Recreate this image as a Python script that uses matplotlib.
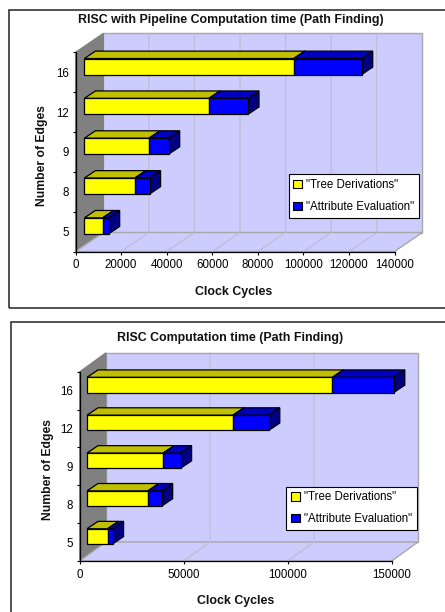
import matplotlib
matplotlib.use("Agg")
import matplotlib.pyplot as plt
from matplotlib.patches import Patch, Polygon, Rectangle

plt.rcParams["font.family"] = ["Liberation Sans", "DejaVu Sans"]

WIDTH = 445
HEIGHT = 612

edges = ["5", "8", "9", "12", "16"]

pipeline_tree = [8050, 22200, 28400, 54700, 91900]
pipeline_attr = [2600, 6400, 8600, 17100, 29800]
pipeline_ticks = [0, 20000, 40000, 60000, 80000, 100000, 120000, 140000]

risc_tree = [9900, 29300, 36700, 70200, 118000]
risc_attr = [2400, 6600, 8300, 17200, 29500]
risc_ticks = [0, 50000, 100000, 150000]

series_names = ['"Tree Derivations"', '"Attribute Evaluation"']


def box(ax, x0, x1, y0, y1, front, top, side, ddx, ddy):
    # one 3d looking bar segment
    ax.add_patch(Polygon([(x0, y1), (x1, y1), (x1 + ddx, y1 + ddy), (x0 + ddx, y1 + ddy)],
                         fc=top, ec="black", lw=0.9, clip_on=False, zorder=3))
    ax.add_patch(Polygon([(x1, y0), (x1 + ddx, y0 + ddy), (x1 + ddx, y1 + ddy), (x1, y1)],
                         fc=side, ec="black", lw=0.9, clip_on=False, zorder=3))
    ax.add_patch(Rectangle((x0, y0), x1 - x0, y1 - y0,
                           fc=front, ec="black", lw=0.9, clip_on=False, zorder=4))


def drawChart(fig, tree, attr, ticks, title, layout):
    left, right, top, bottom = layout["plot"]
    ax = fig.add_axes([left / WIDTH, 1 - bottom / HEIGHT,
                       (right - left) / WIDTH, (bottom - top) / HEIGHT])
    xmax = ticks[-1]
    ymax = len(edges)
    ax.set_xlim(0, xmax)
    ax.set_ylim(0, ymax)
    ax.patch.set_visible(False)

    # pixels to data units
    xu = xmax / (right - left)
    yu = ymax / (bottom - top)
    dx = layout["depth"][0] * xu
    dy = layout["depth"][1] * yu

    wall = "#CCCCFF"
    line = "#BCBCCC"
    ax.add_patch(Polygon([(0, 0), (dx, dy), (dx, ymax + dy), (0, ymax)],
                         fc="#808080", ec="#808080", lw=0.8, clip_on=False, zorder=1))
    ax.add_patch(Rectangle((dx, dy), xmax, ymax, fc=wall, ec="#A8A8A8", lw=1.0,
                           clip_on=False, zorder=0.5))
    ax.add_patch(Polygon([(0, 0), (xmax, 0), (xmax + dx, dy), (dx, dy)],
                         fc=wall, ec="#A8A8A8", lw=1.0, clip_on=False, zorder=1))
    for t in ticks[1:-1]:
        ax.plot([t, t + dx, t + dx], [0, dy, ymax + dy], color=line, lw=0.8,
                clip_on=False, zorder=1.5)

    for i, (a, b) in enumerate(zip(tree, attr)):
        start = layout["bar_start"] * xu
        yc = i + 0.5 + layout["bar_shift"] * yu
        h = layout["bar_h"] * yu
        ddx = layout["bar_depth"][0] * xu
        ddy = layout["bar_depth"][1] * yu
        box(ax, start, start + a, yc - h / 2, yc + h / 2,
            "#FFFF00", "#C0C000", "#808000", ddx, ddy)
        box(ax, start + a, start + a + b, yc - h / 2, yc + h / 2,
            "#0000FF", "#0000C0", "#000080", ddx, ddy)

    for side in ["top", "right"]:
        ax.spines[side].set_visible(False)
    for side in ["left", "bottom"]:
        ax.spines[side].set_linewidth(0.9)
        ax.spines[side].set_zorder(5)

    ax.set_xticks(ticks)
    ax.set_xticklabels([str(t) for t in ticks])
    ax.set_yticks(range(ymax + 1))
    ax.set_yticklabels([])
    ax.set_yticks([i + 0.5 for i in range(ymax)], minor=True)
    ax.set_yticklabels(edges, minor=True)
    ax.tick_params(axis="both", which="major", length=2.2, width=0.8, labelsize=8.3, pad=3.5)
    ax.tick_params(axis="y", which="minor", length=0, labelsize=8.3, pad=5)

    handles = [Patch(fc="#FFFF00", ec="black", lw=0.8), Patch(fc="#0000FF", ec="black", lw=0.8)]
    lx, ly = layout["legend"]
    leg = ax.legend(handles, series_names, loc="lower right",
                    bbox_to_anchor=((lx - left) / (right - left), (bottom - ly) / (bottom - top)),
                    fontsize=8.3, fancybox=False, framealpha=1, edgecolor="black",
                    handlelength=0.75, handleheight=0.75, handletextpad=0.35,
                    labelspacing=0.85, borderpad=0.42, borderaxespad=0)
    leg.get_frame().set_linewidth(0.8)
    leg.set_zorder(6)

    tx, ty = layout["title"]
    fig.text(tx / WIDTH, 1 - ty / HEIGHT, title, ha="center", va="center",
             fontsize=8.9, fontweight="bold", color="#111111")
    tx, ty = layout["xlabel"]
    fig.text(tx / WIDTH, 1 - ty / HEIGHT, "Clock Cycles", ha="center", va="center",
             fontsize=8.9, fontweight="bold", color="#111111")
    tx, ty = layout["ylabel"]
    fig.text(tx / WIDTH, 1 - ty / HEIGHT, "Number of Edges", ha="center", va="center",
             rotation=90, fontsize=8.7, fontweight="bold", color="#111111")

    fx0, fy0, fx1, fy1 = layout["frame"]
    fig.add_artist(Rectangle((fx0 / WIDTH, 1 - fy1 / HEIGHT), (fx1 - fx0) / WIDTH,
                             (fy1 - fy0) / HEIGHT, transform=fig.transFigure,
                             fc="none", ec="#222222", lw=1.1))


fig = plt.figure(figsize=(WIDTH / 100, HEIGHT / 100), dpi=100)

drawChart(fig, pipeline_tree, pipeline_attr, pipeline_ticks,
          "RISC with Pipeline Computation time (Path Finding)",
          {"plot": (75.5, 394.5, 52.3, 251.5), "depth": (27.8, 19),
           "bar_start": 8.9, "bar_shift": 5.7, "bar_h": 16, "bar_depth": (11, 7.4),
           "legend": (419, 217.7), "title": (230.5, 20), "xlabel": (234, 292),
           "ylabel": (42.5, 156), "frame": (8.5, 10, 460, 308)})

drawChart(fig, risc_tree, risc_attr, risc_ticks,
          "RISC Computation time (Path Finding)",
          {"plot": (79.7, 391.7, 371.7, 561), "depth": (26.3, 19),
           "bar_start": 7.3, "bar_shift": 5.7, "bar_h": 15.2, "bar_depth": (11, 7.4),
           "legend": (416.7, 530), "title": (230.5, 338), "xlabel": (235.5, 601),
           "ylabel": (47.5, 470), "frame": (11, 322, 460, 640)})

fig.savefig("out.png", dpi=100)
